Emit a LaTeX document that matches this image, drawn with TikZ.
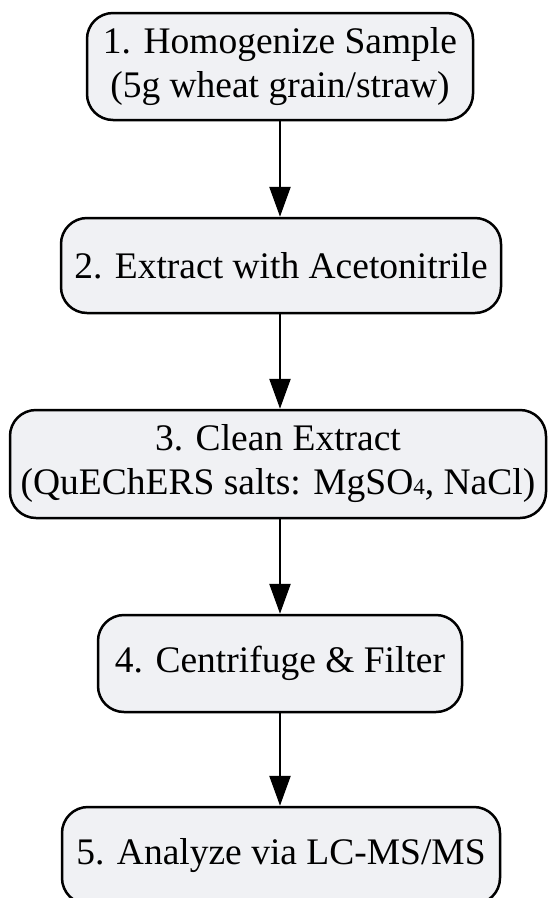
\documentclass[tikz,border=0pt]{standalone}
\usepackage{fontspec}
\setmainfont{Liberation Serif}
\usetikzlibrary{arrows.meta}
\definecolor{boxfill}{HTML}{F0F1F4}
\tikzset{
	stepbox/.style={draw=black, line width=2.5pt, fill=boxfill, rounded corners=26pt,
		align=center, inner sep=0pt, font=\fontsize{37.5}{44}\selectfont},
	flow/.style={-{Triangle[length=30pt,width=21pt]}, line width=2.5pt},
}
\newcommand{\subfour}{{\fontsize{23}{23}\selectfont 4}}
\begin{document}
\begin{tikzpicture}[x=1pt,y=1pt]
			\useasboundingbox (0,0) rectangle (547,-898);
			\node[stepbox, minimum width=386pt, minimum height=107pt] (homog) at (280,-66.5) {1. Homogenize Sample\\(5g wheat grain/straw)};
			\node[stepbox, minimum width=440pt, minimum height=95pt] (extract) at (281,-265.5) {2. Extract with Acetonitrile};
			\node[stepbox, minimum width=536pt, minimum height=108pt] (clean) at (278,-464) {3. Clean Extract\\(QuEChERS salts: MgSO\subfour, NaCl)};
			\node[stepbox, minimum width=364pt, minimum height=97pt] (centri) at (280,-663.5) {4. Centrifuge \& Filter};
			\node[stepbox, minimum width=438pt, minimum height=97pt] (analyze) at (281,-855.5) {5. Analyze via LC-MS/MS};
			\draw[flow] (homog.south -| 280,0) -- (extract.north -| 280,0);
			\draw[flow] (extract.south -| 280,0) -- (clean.north -| 280,0);
			\draw[flow] (clean.south -| 280,0) -- (centri.north -| 280,0);
			\draw[flow] (centri.south -| 280,0) -- (analyze.north -| 280,0);
		\end{tikzpicture}
\end{document}
